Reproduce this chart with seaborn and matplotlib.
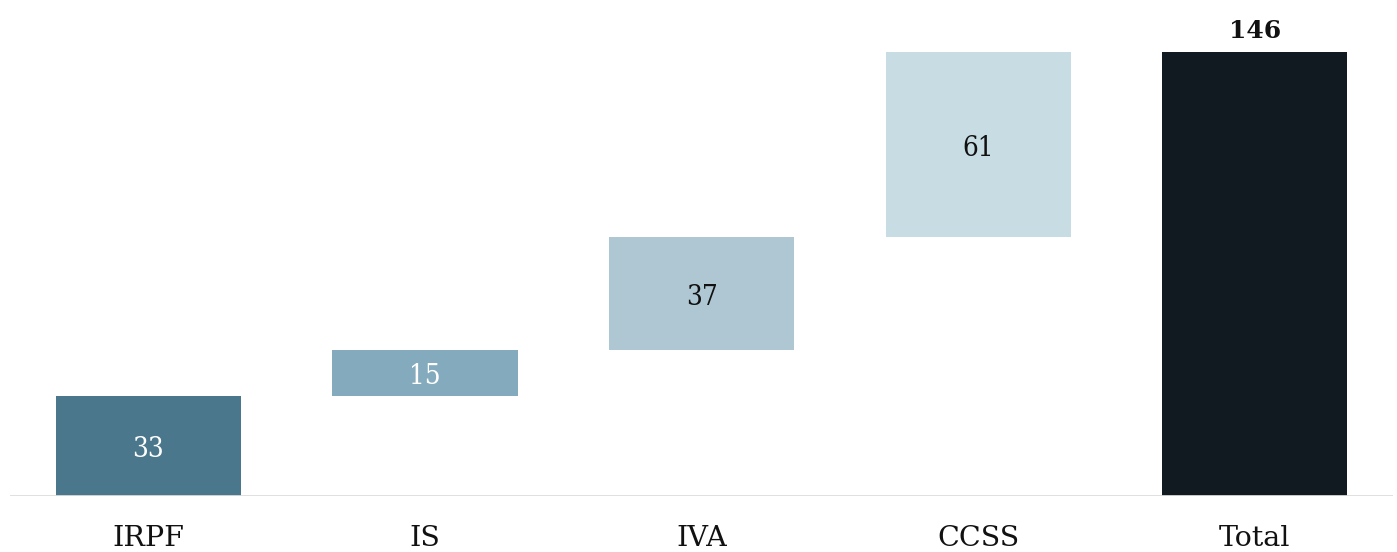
import numpy as np
import pandas as pd
import matplotlib
matplotlib.use("Agg")
import matplotlib.pyplot as plt
import seaborn as sns

categories = ["IRPF", "IS", "IVA", "CCSS", "Total"]
values = [33, 15, 37, 61, 146]
bar_colors = ["#4a778b", "#84abbd", "#afc6d3", "#c8dce4", "#121a21"]
label_colors = ["white", "white", "#111111", "#111111", "#111111"]

# waterfall bottoms: running total for the steps, 0 for the total bar
steps = values[:-1]
bottoms = list(np.concatenate([[0], np.cumsum(steps)[:-1]])) + [0]

data = pd.DataFrame({"cat": categories, "val": values})

sns.set_style("white")
plt.rcParams["font.family"] = ["DejaVu Serif"]

fig = plt.figure(figsize=(13.97, 5.52), dpi=100)
ax = fig.add_axes([0.0072, 0.1014, 0.99, 0.882])

sns.barplot(data=data, x="cat", y="val", hue="cat", palette=bar_colors,
            order=categories, hue_order=categories, legend=False,
            width=0.67, saturation=1, ax=ax, linewidth=0)

for patch, b, v in zip(ax.patches, bottoms, values):
    patch.set_y(b)
    patch.set_height(v)

for i, (b, v) in enumerate(zip(bottoms, values)):
    if i == len(values) - 1:
        ax.text(i, b + v + 3, str(v), ha="center", va="bottom",
                fontsize=18, fontweight="bold", color="#111111")
    else:
        ax.text(i, b + v / 2 - 1.2, str(v), ha="center", va="center",
                fontsize=20, color=label_colors[i], fontstretch="condensed")

ax.axhline(0, color="#dddddd", linewidth=2, zorder=5)
ax.set_ylim(0, 160)
ax.set_xlim(-0.5, 4.5)
ax.set_xlabel("")
ax.set_ylabel("")
ax.set_yticks([])
ax.tick_params(axis="x", length=0, labelsize=20.5, pad=21, labelcolor="#111111")
sns.despine(ax=ax, left=True, bottom=True)

fig.savefig("out.png", dpi=100)
